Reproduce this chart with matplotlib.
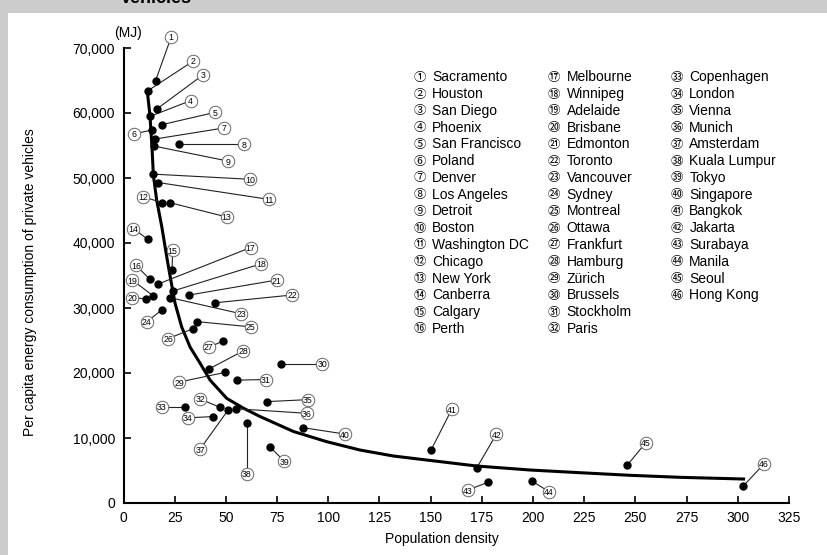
import matplotlib
matplotlib.use('Agg')
import matplotlib.pyplot as plt
from matplotlib.patches import Rectangle
from matplotlib.ticker import FuncFormatter

plt.rcParams['font.family'] = ['Liberation Sans', 'DejaVu Sans']

# ---- data ----
cities = ['Sacramento', 'Houston', 'San Diego', 'Phoenix', 'San Francisco', 'Poland',
          'Denver', 'Los Angeles', 'Detroit', 'Boston', 'Washington DC', 'Chicago',
          'New York', 'Canberra', 'Calgary', 'Perth', 'Melbourne', 'Winnipeg',
          'Adelaide', 'Brisbane', 'Edmonton', 'Toronto', 'Vancouver', 'Sydney',
          'Montreal', 'Ottawa', 'Frankfurt', 'Hamburg', 'Zürich', 'Brussels',
          'Stockholm', 'Paris', 'Copenhagen', 'London', 'Vienna', 'Munich',
          'Amsterdam', 'Kuala Lumpur', 'Tokyo', 'Singapore', 'Bangkok', 'Jakarta',
          'Surabaya', 'Manila', 'Seoul', 'Hong Kong']

density = [15.7, 11.8, 16.2, 13.1, 18.7, 14.1, 15.5, 27.0, 15.1, 14.3, 17.0, 19.0,
           22.7, 11.8, 23.7, 12.9, 17.0, 24.0, 14.4, 11.1, 32.1, 44.7, 22.6, 18.8,
           36.1, 33.8, 48.8, 41.6, 49.7, 76.9, 55.4, 47.3, 30.2, 43.9, 70.1, 55.0,
           51.1, 60.2, 71.6, 87.5, 150.2, 172.5, 178.2, 199.4, 246.1, 302.5]

energy = [65000, 63400, 60600, 59500, 58200, 57400, 56000, 55200, 54900, 50600, 49300, 46200,
          46200, 40600, 35800, 34400, 33700, 32600, 31900, 31400, 32000, 30800, 31600, 29700,
          27900, 26800, 24900, 20600, 20100, 21400, 18900, 14700, 14800, 13300, 15600, 14500,
          14300, 12300, 8600, 11600, 8150, 5400, 3200, 3400, 5850, 2550]

# where each numbered tag sits
label_x = [23.3, 34.1, 39.0, 32.8, 44.7, 5.3, 49.1, 58.9, 51.1, 61.8, 71.2, 9.7,
           50.4, 4.8, 24.0, 6.0, 62.1, 67.2, 4.3, 4.2, 74.8, 82.3, 57.6, 11.3,
           62.1, 21.9, 41.6, 58.5, 27.1, 97.0, 69.5, 37.4, 18.8, 31.4, 90.0, 89.5,
           37.4, 60.2, 78.6, 108.2, 160.3, 182.1, 168.1, 207.7, 255.1, 312.9]
label_y = [71700, 68000, 65900, 61900, 60100, 56800, 57700, 55200, 52600, 49800, 46700, 47100,
           44000, 42200, 38900, 36600, 39300, 36800, 34300, 31600, 34300, 32000, 29100, 27900,
           27100, 25300, 24000, 23400, 18600, 21400, 19000, 16000, 14800, 13100, 15900, 13800,
           8300, 4500, 6400, 10600, 14400, 10600, 2000, 1750, 9300, 6050]

# trend curve
curve_x = [11.6, 12.9, 13.9, 14.6, 16.2, 18.7, 21.1, 23.1, 25.2, 28.4, 32.5, 37.4, 42.3,
           50.4, 58.5, 66.7, 83.0, 99.3, 115.5, 131.8, 148.1, 172.5, 198.6, 223.0,
           247.4, 271.8, 302.8]
curve_y = [63400, 59700, 54800, 50400, 46600, 42500, 37900, 34300, 30700, 27100, 24000,
           21500, 18900, 16100, 14600, 13300, 11000, 9430, 8150, 7230, 6610, 5690, 5075,
           4660, 4260, 3950, 3690]

x_ticks = list(range(0, 326, 25))
y_ticks = list(range(0, 70001, 10000))


def circled(n):
    if n <= 20:
        return chr(0x2460 + n - 1)
    if n <= 35:
        return chr(0x3251 + n - 21)
    return chr(0x32B1 + n - 36)


W, H = 827, 555
fig = plt.figure(figsize=(W / 100, H / 100), dpi=100, facecolor='#cccccc')
fig.add_artist(Rectangle((8 / W, 0), 1, 1 - 13 / H, transform=fig.transFigure,
                         facecolor='white', edgecolor='none', zorder=0))

def px(x, y):
    # pixel position (from top-left) -> figure fraction
    return x / W, 1 - y / H

# cut-off heading at the very top
fig.text(*px(156, 3), 'Vehicles', ha='center', va='baseline', fontsize=13, fontweight='bold')

ax = fig.add_axes([123.5 / W, 52 / H, 665.5 / W, 455 / H])
ax.patch.set_visible(False)
ax.set_xlim(0, 325)
ax.set_ylim(0, 70000)
for s in ['top', 'right']:
    ax.spines[s].set_visible(False)
for s in ['left', 'bottom']:
    ax.spines[s].set_linewidth(1.5)
ax.set_xticks(x_ticks)
ax.set_yticks(y_ticks)
ax.yaxis.set_major_formatter(FuncFormatter(lambda v, p: '{:,}'.format(int(v))))
ax.tick_params(direction='in', length=5, width=1.2, labelsize=10, pad=6)

ax.plot(curve_x, curve_y, color='black', lw=2.2, zorder=2)

for i in range(len(cities)):
    ax.plot([density[i], label_x[i]], [energy[i], label_y[i]], color='#222222',
            lw=0.8, zorder=3, clip_on=False)
ax.plot(density, energy, 'o', color='black', ms=5, zorder=4, clip_on=False)
ax.plot(label_x, label_y, 'o', ms=9, mfc='white', mec='#666666', mew=0.7,
        zorder=5, clip_on=False)
for i in range(len(cities)):
    ax.text(label_x[i], label_y[i], str(i + 1), ha='center', va='center_baseline',
            fontsize=6.3, zorder=6, clip_on=False)

ax.text(2, 72300, '(MJ)', ha='center', va='center', fontsize=10, clip_on=False)

fig.text(*px(442, 539), 'Population density', ha='center', va='center', fontsize=10)
fig.text(*px(30, 282), 'Per capita energy consumption of private vehicles',
         ha='center', va='center', rotation=90, fontsize=10)

# numbered key, three columns
col_glyph = [419.5, 554.0, 676.7]
col_text = [432.3, 566.7, 689.3]
for i, name in enumerate(cities):
    c, r = divmod(i, 16)
    y = 77.3 + r * 16.77
    fig.text(*px(col_glyph[c], y), circled(i + 1), ha='center', va='center',
             fontsize=9, family='Noto Sans CJK JP')
    fig.text(*px(col_text[c], y), name, ha='left', va='center', fontsize=10)

fig.savefig('out.png', dpi=100, facecolor=fig.get_facecolor())
